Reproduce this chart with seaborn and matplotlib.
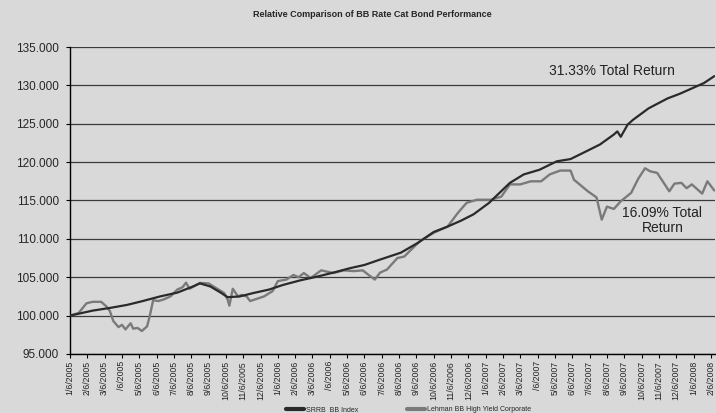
import matplotlib
matplotlib.use("Agg")
import matplotlib.pyplot as plt
import seaborn as sns

# ─── Data (month index from 1/6/2005) ────────────────────────────────────────
tick_labels = ["1/6/2005", "2/6/2005", "3/6/2005", "/6/2005", "5/6/2005", "6/6/2005",
               "7/6/2005", "8/6/2005", "9/6/2005", "10/6/2005", "11/6/2005", "12/6/2005",
               "1/6/2006", "2/6/2006", "3/6/2006", "/6/2006", "5/6/2006", "6/6/2006",
               "7/6/2006", "8/6/2006", "9/6/2006", "10/6/2006", "11/6/2006", "12/6/2006",
               "1/6/2007", "2/6/2007", "3/6/2007", "/6/2007", "5/6/2007", "6/6/2007",
               "7/6/2007", "8/6/2007", "9/6/2007", "10/6/2007", "11/6/2007", "12/6/2007",
               "1/6/2008", "2/6/2008"]

srrb_m = [0, 1.3, 2.3, 3.3, 4.2, 5.2, 6.2, 7.1, 7.5, 8.1, 8.7, 9.1, 9.8, 10.6, 11.5,
          12.3, 13.3, 14.3, 15.2, 16.2, 17.0, 17.9, 19.1, 20.1, 21.0, 21.8, 22.6, 23.3,
          24.2, 24.8, 25.4, 26.2, 27.1, 28.1, 28.9, 29.8, 30.6, 31.4, 31.6, 31.8, 32.2,
          32.5, 33.4, 34.5, 35.2, 35.7, 36.6, 37.2]
srrb_v = [100.0, 100.65, 101.0, 101.4, 101.9, 102.5, 103.0, 103.8, 104.2, 103.8, 103.0,
          102.4, 102.5, 102.95, 103.4, 104.0, 104.6, 105.1, 105.6, 106.2, 106.6, 107.3,
          108.2, 109.5, 110.9, 111.6, 112.4, 113.2, 114.7, 116.0, 117.3, 118.4, 119.0,
          120.1, 120.4, 121.4, 122.3, 123.6, 124.0, 123.3, 124.9, 125.5, 127.0, 128.3,
          128.9, 129.4, 130.3, 131.2]

lehman_m = [0, 0.5, 0.95, 1.3, 1.8, 2.1, 2.3, 2.5, 2.8, 3.0, 3.2, 3.5, 3.65, 3.9, 4.15,
            4.45, 4.6, 4.8, 5.1, 5.4, 5.8, 6.2, 6.5, 6.7, 6.9, 7.5, 8.0, 8.5, 8.9, 9.1,
            9.2, 9.4, 9.7, 9.9, 10.2, 10.4, 11.2, 11.7, 12.0, 12.5, 12.9, 13.2, 13.5,
            13.9, 14.5, 15.2, 15.8, 16.4, 16.9, 17.3, 17.6, 17.9, 18.3, 18.9, 19.3, 19.7,
            20.2, 21.0, 21.8, 22.4, 22.9, 23.5, 24.3, 24.9, 25.4, 26.0, 26.6, 27.2, 27.7,
            28.3, 28.9, 29.1, 29.9, 30.4, 30.7, 31.0, 31.4, 31.8, 32.4, 32.8, 33.2, 33.5,
            33.9, 34.6, 34.9, 35.3, 35.6, 35.9, 36.5, 36.8, 37.2]
lehman_v = [100.0, 100.35, 101.6, 101.8, 101.8, 101.2, 100.6, 99.3, 98.5, 98.8, 98.2,
            99.0, 98.3, 98.4, 98.0, 98.6, 99.9, 102.0, 101.9, 102.1, 102.5, 103.4, 103.7,
            104.3, 103.5, 104.26, 104.2, 103.5, 102.95, 102.1, 101.3, 103.5, 102.5, 102.7,
            102.5, 101.9, 102.5, 103.2, 104.5, 104.7, 105.3, 105.0, 105.55, 104.9, 105.9,
            105.55, 105.9, 105.8, 105.9, 105.2, 104.7, 105.6, 106.0, 107.5, 107.7, 108.6,
            109.7, 110.8, 111.6, 113.4, 114.7, 115.1, 115.1, 115.5, 117.1, 117.1, 117.5,
            117.5, 118.4, 118.9, 118.9, 117.7, 116.2, 115.4, 112.5, 114.2, 113.9, 114.9,
            116.0, 117.8, 119.2, 118.8, 118.6, 116.2, 117.2, 117.3, 116.6, 117.1, 115.9,
            117.5, 116.3]

BG = "#d9d9d9"

sns.set_theme(style="white")
plt.rcParams["font.family"] = ["Liberation Sans", "DejaVu Sans"]

fig = plt.figure(figsize=(7.16, 4.13), dpi=100, facecolor=BG)
ax = fig.add_axes([70 / 716, 1 - 354 / 413, 645 / 716, 307 / 413])
ax.set_facecolor(BG)

sns.lineplot(x=srrb_m, y=srrb_v, ax=ax, color="#2a2a2a", lw=1.6,
             label="SRRB_BB Index", zorder=3)
sns.lineplot(x=lehman_m, y=lehman_v, ax=ax, color="#7a7a7a", lw=1.7,
             label="Lehman BB High Yield Corporate", zorder=2)

ax.set_xlim(0, 37.24)
ax.set_ylim(95, 135)
ax.set_yticks(range(95, 136, 5))
ax.set_yticklabels([f"{v:.3f}" for v in range(95, 136, 5)], fontsize=8.5)
ax.set_xticks(range(len(tick_labels)))
ax.set_xticklabels(tick_labels, rotation=90, fontsize=6.3)
ax.yaxis.grid(True, color="#3a3a3a", lw=0.9)
ax.set_axisbelow(True)
ax.tick_params(axis="both", direction="out", length=3, width=0.8, color="black",
               bottom=True, left=True)
ax.tick_params(axis="y", pad=5)
ax.tick_params(axis="x", pad=2)
for s in ["top", "right"]:
    ax.spines[s].set_visible(False)
for s in ["left", "bottom"]:
    ax.spines[s].set_color("black")
    ax.spines[s].set_linewidth(1)
ax.set_xlabel("")
ax.set_ylabel("")

ax.text(31.3, 131.9, "31.33% Total Return", fontsize=10, ha="center", va="center",
        color="#222222")
ax.text(34.2, 112.4, "16.09% Total\nReturn", fontsize=10, ha="center", va="center",
        color="#222222", linespacing=1.1)

fig.text(0.52, 0.964, "Relative Comparison of BB Rate Cat Bond Performance",
         fontsize=6.5, fontweight="bold", ha="center", va="center")

ax.get_legend().remove()
handles, labels = ax.get_legend_handles_labels()
leg = fig.legend(handles, labels, loc="center", bbox_to_anchor=(0.571, 0.008),
                 ncol=2, frameon=False, fontsize=5, handlelength=2.6,
                 columnspacing=7, handletextpad=0.3)
for ln in leg.get_lines():
    ln.set_linewidth(3)

fig.savefig("out.png", dpi=100, facecolor=BG)
